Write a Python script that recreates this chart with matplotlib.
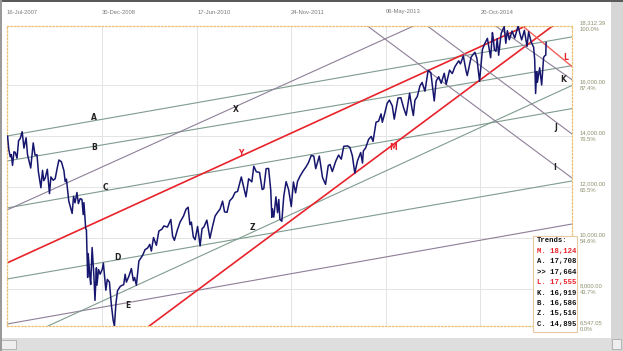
import matplotlib
matplotlib.use('Agg')
import matplotlib.pyplot as plt
import matplotlib.dates as mdates
from matplotlib.patches import Rectangle
import pandas as pd

W, H = 623, 351

# Dow Jones closes
price_dates = [
    '2007-07-16', '2007-07-19', '2007-07-26', '2007-08-03', '2007-08-09', '2007-08-16', '2007-08-24',
    '2007-08-31', '2007-09-10', '2007-09-19', '2007-09-28', '2007-10-09', '2007-10-19', '2007-10-31',
    '2007-11-08', '2007-11-26', '2007-12-10', '2007-12-20', '2007-12-31',
    '2008-01-08', '2008-01-22', '2008-01-31', '2008-02-07', '2008-02-15', '2008-02-27', '2008-03-10',
    '2008-03-18', '2008-03-31', '2008-04-11', '2008-04-23', '2008-05-02', '2008-05-16', '2008-05-30',
    '2008-06-06', '2008-06-13', '2008-06-26', '2008-07-15', '2008-07-23', '2008-07-31', '2008-08-11',
    '2008-08-19', '2008-08-29', '2008-09-08', '2008-09-15', '2008-09-19', '2008-09-29', '2008-10-03',
    '2008-10-10', '2008-10-13', '2008-10-22', '2008-10-27', '2008-11-04', '2008-11-14', '2008-11-20',
    '2008-11-28', '2008-12-01', '2008-12-10', '2008-12-19', '2008-12-31',
    '2009-01-06', '2009-01-20', '2009-01-28', '2009-02-09', '2009-02-20', '2009-03-02', '2009-03-09',
    '2009-03-17', '2009-03-26', '2009-04-09', '2009-04-17', '2009-04-30', '2009-05-08', '2009-05-15',
    '2009-05-29', '2009-06-12', '2009-06-23', '2009-06-30', '2009-07-10', '2009-07-24', '2009-07-31',
    '2009-08-14', '2009-08-28', '2009-09-11', '2009-09-23', '2009-10-02', '2009-10-14', '2009-10-30',
    '2009-11-13', '2009-11-30', '2009-12-11', '2009-12-31',
    '2010-01-19', '2010-01-29', '2010-02-08', '2010-02-25', '2010-03-12', '2010-03-31', '2010-04-14',
    '2010-04-26', '2010-05-06', '2010-05-14', '2010-05-25', '2010-06-04', '2010-06-18', '2010-07-02',
    '2010-07-13', '2010-07-23', '2010-08-09', '2010-08-26', '2010-09-10', '2010-09-24', '2010-10-08',
    '2010-10-22', '2010-11-05', '2010-11-16', '2010-11-30', '2010-12-15', '2010-12-31',
    '2011-01-14', '2011-01-28', '2011-02-18', '2011-03-01', '2011-03-16', '2011-03-31', '2011-04-18',
    '2011-04-29', '2011-05-13', '2011-05-31', '2011-06-15', '2011-06-24', '2011-07-07', '2011-07-21',
    '2011-08-02', '2011-08-08', '2011-08-11', '2011-08-19', '2011-08-31', '2011-09-09', '2011-09-16',
    '2011-09-22', '2011-10-03', '2011-10-14', '2011-10-27', '2011-11-10', '2011-11-25', '2011-12-07',
    '2011-12-19', '2011-12-30',
    '2012-01-13', '2012-01-31', '2012-02-15', '2012-02-29', '2012-03-16', '2012-03-30', '2012-04-10',
    '2012-04-30', '2012-05-18', '2012-06-04', '2012-06-19', '2012-06-29', '2012-07-12', '2012-07-31',
    '2012-08-16', '2012-08-31', '2012-09-14', '2012-10-05', '2012-10-18', '2012-11-01', '2012-11-15',
    '2012-11-30', '2012-12-18', '2012-12-28',
    '2013-01-02', '2013-01-15', '2013-01-31', '2013-02-15', '2013-02-25', '2013-03-14', '2013-03-28',
    '2013-04-11', '2013-04-18', '2013-04-30', '2013-05-15', '2013-05-28', '2013-06-13', '2013-06-24',
    '2013-07-15', '2013-07-31', '2013-08-15', '2013-08-30', '2013-09-18', '2013-09-30', '2013-10-09',
    '2013-10-18', '2013-10-31', '2013-11-15', '2013-11-27', '2013-12-13', '2013-12-31',
    '2014-01-15', '2014-02-03', '2014-02-14', '2014-02-28', '2014-03-14', '2014-03-31', '2014-04-11',
    '2014-04-30', '2014-05-15', '2014-05-30', '2014-06-20', '2014-06-30', '2014-07-16', '2014-07-31',
    '2014-08-07', '2014-08-29', '2014-09-19', '2014-09-30', '2014-10-15', '2014-10-31', '2014-11-14',
    '2014-11-28', '2014-12-16', '2014-12-26', '2014-12-31',
    '2015-01-06', '2015-01-15', '2015-01-22', '2015-01-30', '2015-02-13', '2015-03-02', '2015-03-11',
    '2015-03-20', '2015-03-31', '2015-04-15', '2015-04-30', '2015-05-19', '2015-05-29', '2015-06-08',
    '2015-06-23', '2015-07-08', '2015-07-17', '2015-07-31', '2015-08-14', '2015-08-20', '2015-08-25',
    '2015-08-31', '2015-09-04', '2015-09-17', '2015-09-28', '2015-10-09', '2015-10-15', '2015-10-21',
    '2015-10-23',
]
price_close = [
    13951, 14000, 13473, 13182, 13271, 12846, 13379,
    13358, 13128, 13816, 13896, 14165, 13522, 13930,
    13266, 12744, 13727, 13245, 13265,
    12590, 11971, 12650, 12248, 12348, 12694, 11740,
    12393, 12263, 12325, 12763, 13058, 12986, 12638,
    12209, 12307, 11453, 10963, 11632, 11378, 11782,
    11349, 11544, 11511, 10918, 11388, 10365, 10325,
    8451, 9388, 8519, 8176, 9625, 8497, 7552,
    8829, 8149, 8761, 8579, 8776,
    9015, 7950, 8375, 8270, 7366, 6763, 6547,
    7395, 7925, 8083, 8131, 8168, 8575, 8268,
    8500, 8799, 8323, 8447, 8146, 9093, 9171,
    9321, 9544, 9606, 9748, 9487, 10016, 9713,
    10270, 10345, 10471, 10428,
    10726, 10067, 9908, 10321, 10625, 10857, 11123,
    11205, 10520, 10620, 10043, 9931, 10450, 9686,
    10364, 10425, 10698, 9986, 10463, 10860, 11006,
    11133, 11444, 11023, 11006, 11457, 11578,
    11787, 11824, 12391, 12058, 11613, 12320, 12202,
    12811, 12596, 12570, 11898, 11934, 12719, 12724,
    11867, 10810, 11143, 10818, 11614, 10992, 11509,
    10734, 10655, 11645, 12209, 11893, 11231, 12196,
    11767, 12218,
    12422, 12633, 12781, 12952, 13233, 13212, 12716,
    13214, 12369, 12101, 12837, 12880, 12605, 13009,
    13250, 13091, 13593, 13610, 13557, 13232, 12542,
    13026, 13350, 12938,
    13412, 13535, 13861, 13982, 13784, 14539, 14579,
    14865, 14537, 14840, 15275, 15409, 15176, 14660,
    15484, 15500, 15112, 14810, 15676, 15130, 14802,
    15400, 15546, 15962, 16097, 15755, 16577,
    16481, 15373, 16154, 16322, 16066, 16458, 16027,
    16581, 16447, 16717, 16947, 16827, 17138, 16563,
    16368, 17098, 17280, 17043, 16142, 17391, 17635,
    17828, 17068, 18053, 17823,
    17372, 17320, 17814, 17165, 18019, 18288, 17635,
    18128, 17776, 18113, 17841, 18312, 18011, 17767,
    18144, 17515, 18086, 17690, 17477, 16990, 15666,
    16528, 16102, 16675, 16001, 17084, 17141, 17169,
    17664,
]

x_start = '2007-07-16'
x_end = '2016-03-16'
y_low = 6547.05
y_high = 18312.39

top_dates = ['2007-07-16', '2008-12-30', '2010-06-17', '2011-11-24', '2013-05-06', '2014-10-20']
top_labels = ['16-Jul-2007', '30-Dec-2008', '17-Jun-2010', '24-Nov-2011', '06-May-2013', '20-Oct-2014']

grid_values = [16000, 14000, 12000, 10000, 8000]
level_values = [18312.39, 16000, 14000, 12000, 10000, 8000, 6547.05]
level_text = ['18,312.39', '16,000.00', '14,000.00', '12,000.00', '10,000.00', '8,000.00', '6,547.05']
level_pct = ['100.0%', '87.4%', '76.5%', '65.5%', '54.6%', '43.7%', '0.0%']

# trend lines: two anchor points each
trend_names = ['A', 'B', 'C', 'D', 'E', 'X', 'Y', 'Z', 'M', 'I', 'J', 'K', 'L']
trend_d1 = ['2007-07-16', '2007-07-16', '2007-07-16', '2007-07-16', '2007-07-16', '2007-07-16',
            '2007-07-16', '2008-03-02', '2009-09-20', '2013-01-25', '2013-12-27', '2015-01-13',
            '2015-06-13']
trend_v1 = [13998, 13018, 11175, 8390, 6625, 11096, 9018, 6547, 6547, 18312, 18312, 18312, 18312]
trend_d2 = ['2015-10-23', '2015-10-23', '2015-10-23', '2016-03-16', '2016-03-16', '2013-10-10',
            '2015-06-30', '2015-10-23', '2015-10-23', '2016-03-16', '2016-03-16', '2015-10-23',
            '2015-10-23']
trend_v2 = [17708, 16586, 14895, 12234, 10547, 18312, 18312, 15516, 18124, 12351, 14077, 16919, 17555]
trend_kind = ['g', 'g', 'g', 'g', 'p', 'p', 'r', 'g', 'r', 'p', 'p', 'p', 'l']

box_names = ['M.', 'A.', '>>', 'L.', 'K.', 'B.', 'Z.', 'C.']
box_values = [18124, 17708, 17664, 17555, 16919, 16586, 15516, 14895]
box_red = [True, False, False, True, False, False, False, False]

# label spots in pixels (x, y from top)
label_px = {'A': (94, 117), 'B': (94, 147), 'C': (105, 187), 'D': (117, 257), 'E': (128, 306),
            'X': (236, 110), 'Y': (241, 153), 'Z': (252, 227), 'M': (393, 148), 'I': (555, 168),
            'J': (556, 128), 'K': (563, 79), 'L': (566, 57)}

kind_style = {
    'g': dict(color='#7f9c8e', lw=0.8),
    'p': dict(color='#8e7f98', lw=0.8),
    'r': dict(color='#e8232b', lw=1.2),
    'l': dict(color='#f0605a', lw=1.0),
}

AX_L, AX_R, AX_T, AX_B = 7, 572, 26, 326

fig = plt.figure(figsize=(W / 100, H / 100), dpi=100, facecolor='white')
ax = fig.add_axes([AX_L / W, 1 - AX_B / H, (AX_R - AX_L) / W, (AX_B - AX_T) / H])
ax.set_facecolor('white')

dates = pd.to_datetime(price_dates)
ax.set_xlim(pd.Timestamp(x_start), pd.Timestamp(x_end))
ax.set_ylim(y_low, y_high)

# grid
for v in grid_values:
    ax.axhline(v, color='#e4e4e4', lw=0.7, zorder=0)
for d in top_dates[1:]:
    ax.axvline(pd.Timestamp(d), color='#e4e4e4', lw=0.7, zorder=0)

# trend lines
for name, d1, v1, d2, v2, k in zip(trend_names, trend_d1, trend_v1, trend_d2, trend_v2, trend_kind):
    p1 = (mdates.date2num(pd.Timestamp(d1)), v1)
    p2 = (mdates.date2num(pd.Timestamp(d2)), v2)
    ax.axline(p1, p2, zorder=2, **kind_style[k])
    px, py = label_px[name]
    ax.text((px - AX_L) / (AX_R - AX_L), (AX_B - py) / (AX_B - AX_T), name,
            transform=ax.transAxes, ha='center', va='center', fontsize=5.5,
            fontweight='bold', color='#e8232b' if k in 'rl' else '#222222', zorder=4)

ax.plot(dates, price_close, color='#16166e', lw=1.1, zorder=3)

for s in ax.spines.values():
    s.set_color('#ecc074')
    s.set_linestyle((0, (1.2, 1.6)))
    s.set_linewidth(0.9)
ax.set_xticks([])
ax.set_yticks([])

# top date labels
for d, t in zip(top_dates, top_labels):
    xf = ax.transData.transform((mdates.date2num(pd.Timestamp(d)), y_low))[0] / W
    fig.text(xf, 1 - 12 / H, t, ha='left', va='center', fontsize=4.2,
             family='Liberation Sans', color='#7a7a7a')

# right value / percent labels
for v, t, p in zip(level_values, level_text, level_pct):
    yf = ax.transData.transform((0, v))[1] / H
    fig.text(580 / W, yf + 1 / H, t, ha='left', va='bottom', fontsize=4.2,
             family='Liberation Sans', color='#8f8f6e')
    fig.text(580 / W, yf - 1 / H, p, ha='left', va='top', fontsize=4.2,
             family='Liberation Sans', color='#8f8f6e')

# trends box
fig.add_artist(Rectangle((533 / W, 1 - 332 / H), 44 / W, 96 / H, transform=fig.transFigure,
                         facecolor='white', edgecolor='#e8c8a0', lw=0.8, zorder=5))
fig.text(537 / W, 1 - 241 / H, 'Trends:', ha='left', va='center', fontsize=5.2,
         family='Liberation Mono', fontweight='bold', color='#111111', zorder=6)
for i, (n, v, red) in enumerate(zip(box_names, box_values, box_red)):
    fig.text(537 / W, 1 - (251.5 + i * 10.4) / H, f'{n} {v:,}', ha='left', va='center',
             fontsize=5.2, family='Liberation Mono', fontweight='bold',
             color='#e8232b' if red else '#111111', zorder=6)

# window chrome: scrollbars and frame
fig.add_artist(Rectangle((0, 0), 611 / W, 13 / H, transform=fig.transFigure,
                         facecolor='#dedede', edgecolor='none', zorder=1))
fig.add_artist(Rectangle((1 / W, 2 / H), 15 / W, 9 / H, transform=fig.transFigure,
                         facecolor='#eeeeee', edgecolor='#a0a0a0', lw=0.5, zorder=2))
fig.add_artist(Rectangle((611 / W, 0), 12 / W, 1, transform=fig.transFigure,
                         facecolor='#d6d6d6', edgecolor='none', zorder=1))
fig.add_artist(Rectangle((612 / W, 2 / H), 9 / W, 10 / H, transform=fig.transFigure,
                         facecolor='#eeeeee', edgecolor='#a0a0a0', lw=0.5, zorder=2))
fig.add_artist(Rectangle((0, 1 - 2 / H), 1, 2 / H, transform=fig.transFigure,
                         facecolor='#5a5a5a', edgecolor='none', zorder=2))
fig.add_artist(Rectangle((0, 0), 2 / W, 1, transform=fig.transFigure,
                         facecolor='#9a9a9a', edgecolor='none', zorder=2))

fig.savefig('out.png', dpi=100, facecolor='white')
